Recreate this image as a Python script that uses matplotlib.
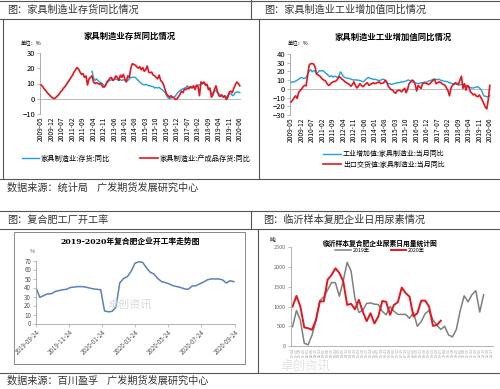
import numpy as np
import pandas as pd
import matplotlib
matplotlib.use("Agg")
import matplotlib.pyplot as plt
from matplotlib.lines import Line2D

plt.rcParams['font.family'] = ['Noto Sans CJK SC', 'DejaVu Sans']

W, H = 500, 389

# ---- data ----
months = pd.period_range('2009-05', '2020-06', freq='M').strftime('%Y-%m')

# top-left: 家具制造业存货同比
inv_finished = [9, 8, 6.5, 5.5, 4, 3, 2, 1, 0.3, 0.2, 1, 2, 3, 4.5, 5.5, 7, 8, 9.5, 11, 12.5,
                14, 15.5, 17.5, 19, 20.5, 19.5, 17.5, 16, 16.5, 14, 15, 9, 13, 14, 15, 11, 10, 10.5, 10, 9.5,
                10, 8, 7.5, 8.5, 11, 12, 13.5, 14, 12, 13, 15, 14, 12, 15.5, 14, 16, 13, 11, 15, 14,
                20, 23, 22.5, 22, 21, 20, 21, 19, 20.5, 18, 19, 21.5, 17.5, 17, 17.5, 15.5, 15, 14, 13, 15.5,
                12, 11, 9, 6, 3, 2, 1, 2, 1, 0.5, -0.5, 0, 1.5, 3, 5, 4, 6.5, 6, 7, 6.5,
                8, 7, 8.5, 6, 9, 8, 2, 11, 10, 11, 9, 9.5, 6, 7, 1, 2.5, 6, 8.5, 5, 2,
                1.5, 2.5, 1, 2, -0.5, 1, 4.5, 5, 4, 7, 9, 11, 10, 8.5]
inv_total = [np.nan] * 34 + [18, 14, 12, 13, 12, 11,
             10.5, 10, 8.5, 9, 10.5, 11.5, 12, 12.5, 12, 12.5, 13, 12.5, 12, 12.5, 12, 12.5, 12, 11.5, 12, 13,
             14, 14, 14.2, 14, 13, 12, 11, 10, 9.5, 9, 9.5, 9, 8.5, 8.5, 8, 8, 7, 7.5, 7, 7.5,
             6.5, 6, 5, 4, 2, 0.5, 0, 0.5, 1, 1, 2, 3.5, 4.5, 5.5, 6, 6.5, 7, 7.5, 8.5, 7,
             8, 7.5, 7.5, 8, 8, 9, 9, 9.5, 10, 10, 9, 8.5, 7, 6, 3, 4, 5, 5.5, 4, 3,
             2.5, 2, 1, 1.5, 1, 2.5, 3, 3.5, 2, 2.5, 4, 4.5, 4.5, 4]

# top-right: 工业增加值 / 出口交货值
value_added = [7.5, 8, 8, 9, 10, 11, 12.5, 13, 12, 12, 13, 17, 20, 22, 19.5, 21, 20, 17.5, 19, 21,
               20.5, 21, 20, 18, 17, 15, 14, 15, 13.5, 14.5, 14, 13, 15, 19.5, 17, 14, 13, 12.5, 12, 12,
               11, 10.5, 10, 10.5, 10, 10, 9.5, 9, 8, 9, 11, 12.5, 13, 12, 11.5, 11, 11, 10.5, 10, 9.5,
               10, 11, 11, 9, 7, 6, 6, 5, 5.5, 6, 6.5, 7, 7, 7.5, 8, 8, 8.5, 9, 10, 10,
               9, 8, 8, 7, 6.5, 6, 6.5, 7, 7, 7.5, 7.5, 8, 9, 9.5, 10, 11, 11, 11, 10.5, 11,
               10, 9.5, 9, 8.5, 8.5, 8, 7, 6.5, 6, 5.5, 5.5, 5, 4.5, 4.5, 5, 5, 4.5, 3.5, 2.5, 2,
               1.5, 1, 1, 1.5, 2, 2.5, 1, -0.5, -4, -8, -8.5, -9, -9, -8]
export_value = [-15, -13, -10, -8, -11, -4, -2, 0, 2.5, 4, 3.5, 15, 27, 29, 29, 28.5, 25, 17, 16, 15,
                13, 11, 10, 9, 6, 4, 5, 7, 8, 8.5, 9, 11, 14, 13, 11, 10, 8, 7, 6, 5,
                3, 5, 8, 4, 1, 3, 6, 4, 2.5, 4, 6, 7, 4, 5, 6, 7, 6, 6.5, 7.5, 8,
                6, 6.5, 7, 10, 8, 3, 1, -1, -1.5, -4, -5, -2, -1.5, -2, -3.5, -1, 0.5, -4.5, 0, 6,
                8, 10, 9, 5, -2.5, 4, 2, 0.5, 6, 7, 6.5, 6, 5, 6, 8, 10, 11, 6, 7, 8,
                7.5, 6, 5, 4, 1, -2, -8, 1, 4, 5.5, 7, 6, 5, 10, 14.5, 0.5, 6, -1.5, 4, 2.5,
                -3.5, -5, -7, -6, -8.5, -9, -7, -10, -13, -17, -21, -23, -12, 4]

# bottom-left: 复合肥开工率
npk_dates = pd.date_range('2019-09-24', periods=53, freq='7D')
npk_rate = [40, 29, 31, 33, 33, 35.5, 36.5, 37.5, 38, 40, 40.5, 41, 41, 40.5, 39.5, 38.5, 38, 37.5,
            14, 13, 13.5, 18, 45, 50, 52, 58, 67, 68.5, 68, 62, 57, 55, 50, 46.5, 45.5, 44,
            42, 41, 40, 38.5, 38, 41.5, 42, 44, 46, 48.5, 49.5, 49.5, 49.5, 48.5, 45, 47.5, 46.5]
npk_ticks = ['2019-09-24', '2019-11-24', '2020-01-24', '2020-03-24', '2020-05-24', '2020-07-24', '2020-09-24']

# bottom-right: 临沂尿素日用量
urea_weeks = pd.date_range('2019-01-04', periods=52, freq='7D').strftime('%m-%d')
urea_2019 = [490, 900, 650, 70, 30, 280, 650, 1150, 1240, 1420, 1610, 1600, 1260, 1650, 2120, 1900, 1200,
             850, 900, 1080, 1090, 1060, 1050, 880, 790, 1000, 880, 800, 800, 800, 700, 850, 500, 620,
             820, 900, 660, 530, 420, 500, 280, 230, 420, 900, 1270, 1120, 1300, 1400, 860, 1300]
urea_2020 = [1000, 1270, 1000, 470, 450, 410, 660, 1130, 1130, 1680, 1800, 1970, 1850, 1640, 1040, 1070,
             930, 1170, 870, 630, 830, 570, 750, 1140, 1120, 790, 1040, 1110, 1480, 1340, 1250, 750,
             830, 1150, 1150, 1000, 510, 530, 640]

BLUE = '#1fa0dc'
RED = '#e8141e'


def px_axes(l, t, r, b):
    return fig.add_axes([l / W, 1 - b / H, (r - l) / W, (b - t) / H])


def hline(y, x1, x2, color='#555555', lw=0.8):
    fig.add_artist(Line2D([x1 / W, x2 / W], [1 - y / H, 1 - y / H], transform=fig.transFigure, color=color, lw=lw))


def vline(x, y1, y2, color='#555555', lw=0.8):
    fig.add_artist(Line2D([x / W, x / W], [1 - y1 / H, 1 - y2 / H], transform=fig.transFigure, color=color, lw=lw))


def ftext(x, y, s, **kw):
    fig.text(x / W, 1 - y / H, s, **kw)


def style_line_axes(ax):
    for s in ['top', 'right', 'bottom']:
        ax.spines[s].set_visible(False)
    ax.spines['left'].set_color('#a0a0a0')
    ax.spines['left'].set_linewidth(0.6)
    ax.tick_params(axis='y', labelsize=5.5, length=2, width=0.5, color='#a0a0a0', pad=1.5)
    ax.tick_params(axis='x', labelsize=4.8, length=0, pad=2)
    ax.axhline(0, color='#b0b0b0', lw=0.6, zorder=1)


fig = plt.figure(figsize=(W / 100, H / 100), dpi=100)

# ---- frames ----
hline(0.6, 0, 500)
hline(19, 0, 500)
vline(251, 0, 19)
vline(3, 19, 179)
vline(259, 19, 179)
hline(179, 0, 500)
hline(211, 0, 500)
hline(229, 0, 500)
vline(251, 211, 229)
vline(258, 229, 373)
hline(373, 0, 500)
fig.add_artist(plt.Rectangle((14 / W, 1 - 364 / H), (245 - 14) / W, (364 - 232) / H,
                             transform=fig.transFigure, fill=False, ec='#888888', lw=0.7))

hdr = dict(fontsize=7.3, color='#333333', va='center')
ftext(7, 10, '图：家具制造业存货同比情况', **hdr)
ftext(264, 10, '图：家具制造业工业增加值同比情况', **hdr)
ftext(7, 220, '图：复合肥工厂开工率', **hdr)
ftext(263, 220, '图：临沂样本复肥企业日用尿素情况', **hdr)
ftext(7, 188, '数据来源：统计局    广发期货发展研究中心', **hdr)
ftext(7, 381, '数据来源：百川盈孚    广发期货发展研究中心', **hdr)

x = np.arange(len(months))
tick_pos = x[::7]

# ---- top-left ----
ax1 = px_axes(40, 53, 241, 114)
l1, = ax1.plot(x, inv_total, color=BLUE, lw=1.0, label='家具制造业:存货:同比', zorder=3)
l2, = ax1.plot(x, inv_finished, color=RED, lw=1.2, label='家具制造业:产成品存货:同比', zorder=4)
ax1.set_ylim(-10, 30)
ax1.set_yticks([-10, 0, 10, 20, 30])
ax1.set_xlim(-0.8, len(x) - 0.2)
ax1.set_xticks(tick_pos)
ax1.set_xticklabels(months[::7], rotation=90)
style_line_axes(ax1)
ftext(130, 36, '家具制造业存货同比情况', fontsize=6, fontweight='bold', ha='center', va='center')
ftext(21, 44, '单位：%', fontsize=3.8, va='center')
fig.legend(handles=[l1, l2], loc='center', bbox_to_anchor=(136 / W, 1 - 159 / H), ncol=2,
           frameon=False, fontsize=5.2, handlelength=2.4, columnspacing=4.2, handletextpad=0.2)

# ---- top-right ----
ax2 = px_axes(290, 54, 491, 115)
l3, = ax2.plot(x, value_added, color=BLUE, lw=1.0, label='工业增加值:家具制造业:当月同比', zorder=3)
l4, = ax2.plot(x, export_value, color=RED, lw=1.2, label='出口交货值:家具制造业:当月同比', zorder=4)
ax2.set_ylim(-30, 40)
ax2.set_yticks(range(-30, 41, 10))
ax2.set_xlim(-0.8, len(x) - 0.2)
ax2.set_xticks(tick_pos)
ax2.set_xticklabels(months[::7], rotation=90)
style_line_axes(ax2)
ftext(393, 37, '家具制造业工业增加值同比情况', fontsize=6, fontweight='bold', ha='center', va='center')
ftext(288, 44, '单位：%', fontsize=3.8, va='center')
fig.legend(handles=[l3, l4], loc='center', bbox_to_anchor=(384 / W, 1 - 159.5 / H), ncol=1,
           frameon=False, fontsize=5, handlelength=2.6, handletextpad=0.2, labelspacing=0.4)

# ---- bottom-left ----
ax3 = px_axes(36, 260.5, 235, 323.5)
ax3.plot(npk_dates, npk_rate, color='#5b80ba', lw=1.1)
ax3.set_ylim(0, 70)
ax3.set_yticks(range(0, 71, 10))
nt = pd.to_datetime(npk_ticks)
ax3.set_xlim(nt[0], nt[-1])
ax3.set_xticks(nt)
ax3.set_xticklabels(npk_ticks, rotation=45, ha='right', rotation_mode='anchor')
for s in ['top', 'right']:
    ax3.spines[s].set_visible(False)
for s in ['left', 'bottom']:
    ax3.spines[s].set_color('#a6a6a6')
    ax3.spines[s].set_linewidth(0.6)
ax3.tick_params(labelsize=4.5, labelcolor='#555555', length=2, width=0.5, color='#a6a6a6', pad=1.5)
ftext(130, 242, '2019-2020年复合肥企业开工率走势图', fontsize=5.6, fontweight='bold', ha='center',
      va='center', family=['DejaVu Serif', 'Noto Sans CJK SC'])
ftext(30, 252, '%', fontsize=4.2, color='#555555', va='center')
ftext(130, 304, '卓创资讯', fontsize=8, color='#d9d9d9', ha='center', va='center', zorder=0)

# ---- bottom-right ----
ax4 = px_axes(291, 247.3, 493, 346)
ux = np.arange(len(urea_weeks))
l5, = ax4.plot(ux[:len(urea_2019)], urea_2019, color='#7f7f7f', lw=1.1, label='2019年')
l6, = ax4.plot(ux[:len(urea_2020)], urea_2020, color=RED, lw=1.4, label='2020年')
ax4.set_ylim(0, 2500)
ax4.set_yticks(range(0, 2501, 500))
ax4.set_xlim(-0.4, len(ux) - 0.6)
ax4.set_xticks(ux)
ax4.set_xticklabels(urea_weeks, rotation=90)
for s in ['top', 'right']:
    ax4.spines[s].set_visible(False)
for s in ['left', 'bottom']:
    ax4.spines[s].set_color('#a6a6a6')
    ax4.spines[s].set_linewidth(0.6)
ax4.tick_params(axis='y', labelsize=4, labelcolor='#666666', length=2, width=0.5, color='#a6a6a6', pad=1.5)
ax4.tick_params(axis='x', labelsize=2.5, labelcolor='#9a9a9a', length=0, pad=1.5)
ftext(380, 243, '临沂样本复合肥企业尿素日用量统计图', fontsize=4.9, fontweight='bold', ha='center', va='center')
ftext(270, 240, '吨', fontsize=4.2, va='center')
fig.legend(handles=[l5, l6], loc='center', bbox_to_anchor=(380 / W, 1 - 250 / H), ncol=2,
           frameon=False, fontsize=3.8, handlelength=3, columnspacing=4, handletextpad=0.3)
ftext(305, 366, '卓创资讯', fontsize=9, color='#e3e3e3', ha='center', va='center', zorder=0)

fig.savefig('out.png', dpi=100)
